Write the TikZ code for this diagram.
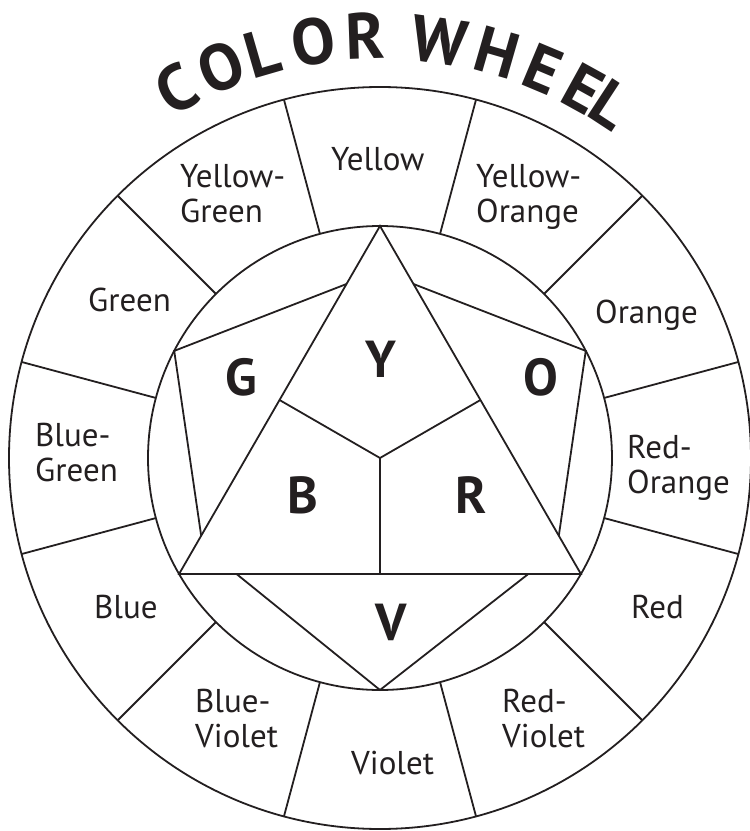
\documentclass[tikz,border=0pt]{standalone}
\usepackage{fontspec}
\setmainfont{PT Sans}
\usepackage{tikz}
\usetikzlibrary{calc}
\definecolor{inkc}{HTML}{231F20}
\tikzset{
  wline/.style={draw=inkc, line width=1.8pt},
  lbl/.style={font=\fontsize{33}{35}\selectfont, text=inkc, inner sep=0pt,
              anchor=base west, align=left},
  big/.style={font=\fontsize{52}{52}\selectfont\bfseries, text=inkc, inner sep=0pt, anchor=base},
  ttl/.style={font=\fontsize{65}{65}\selectfont\bfseries, text=inkc, inner sep=0pt, anchor=base},
}

\begin{document}
\begin{tikzpicture}[x=1pt, y=1pt]
  \useasboundingbox (-380,-373) rectangle (370,458);
  % rings and the twelve sectors
  \draw[wline] (0,0) circle (371);
  \draw[wline] (0,0) circle (232);
  \foreach \a in {15,45,...,345}
    \draw[wline] (\a:232) -- (\a:371);
  % primary triangle
  \coordinate (apex) at (90:232);
  \coordinate (bl) at (210:232);
  \coordinate (br) at (330:232);
  \coordinate (mid) at (0,0);
  \draw[wline] (apex) -- (bl) -- (br) -- cycle;
  \draw[wline] ($(apex)!0.5!(bl)$) -- (mid) -- ($(apex)!0.5!(br)$);
  \draw[wline] (mid) -- ($(bl)!0.5!(br)$);
  % secondary wedges
  \draw[wline] ($(apex)!0.1667!(bl)$) -- (152.5:232) -- ($(apex)!0.89!(bl)$);
  \draw[wline] ($(apex)!0.1667!(br)$) -- (27.5:232) -- ($(apex)!0.89!(br)$);
  \coordinate (v1) at ($(bl)!0.143!(br)$);
  \coordinate (v2) at ($(bl)!0.869!(br)$);
  \draw[wline] (v1) -- (270:232) -- (v2);
  \draw[wline, line width=2.6pt] (v1) -- (v2);
  % sector names
  \node[lbl] (yel) at (-49,288) {Yellow};
  \node[lbl] (yelgrn) at (-200,236) {Yellow-\\Green};
  \node[lbl] (yelorg) at (96,236) {Yellow-\\Orange};
  \node[lbl] (grn) at (-292,147) {Green};
  \node[lbl] (org) at (215,135) {Orange};
  \node[lbl] (blugrn) at (-345,-23) {Blue-\\Green};
  \node[lbl] (redorg) at (247,-35) {Red-\\Orange};
  \node[lbl] (blu) at (-286,-160) {Blue};
  \node[lbl] (red) at (251,-160) {Red};
  \node[lbl] (bluvio) at (-185,-289) {Blue-\\Violet};
  \node[lbl] (redvio) at (122,-289) {Red-\\Violet};
  \node[lbl] (vio) at (-29,-316) {Violet};
  % letters in the triangle
  \node[big] (ly) at (1,81) {Y};
  \node[big] (lg) at (-138.5,63) {G};
  \node[big] (lo) at (161,63) {O};
  \node[big] (lb) at (-77,-55) {B};
  \node[big] (lr) at (91,-55) {R};
  \node[big] (lv) at (11,-182) {V};
  % title on an arc
  \foreach \ch/\ang [count=\i] in {C/118.9, O/112.2, L/106.2, O/99.1, R/92.0,
                                   W/81.9, H/73.9, E/67.3, E/61.1, L/56.8}
    \node[ttl, rotate=\ang-90] (t\i) at (\ang:399) {\ch};
\end{tikzpicture}
\end{document}
